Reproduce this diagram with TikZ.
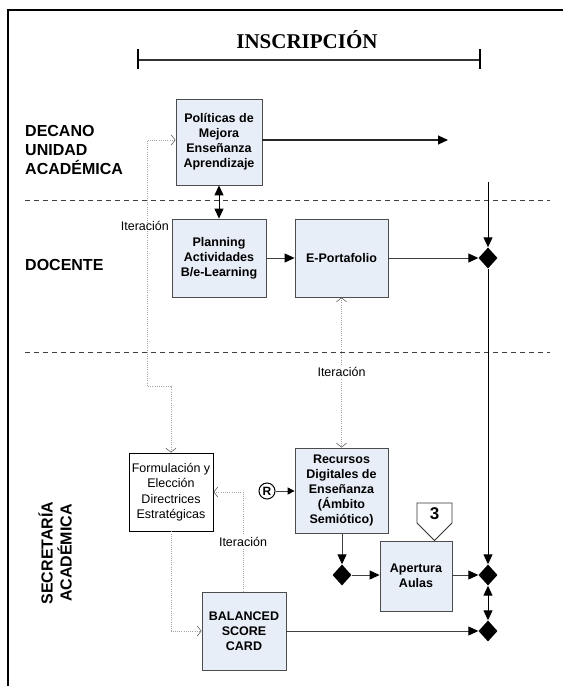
\documentclass[tikz,border=0pt]{standalone}
\usepackage{fontspec}
\setmainfont{Liberation Sans}
\newfontfamily\serifT{Liberation Serif}
\usetikzlibrary{arrows.meta,shapes.geometric}
\definecolor{boxblue}{RGB}{232,238,248}
\begin{document}
\begin{tikzpicture}[x=1pt,y=-1pt,
  box/.style={draw=black!70, fill=boxblue, line width=0.8pt, inner sep=1pt, align=center,
    font=\fontsize{12.5}{15}\selectfont\bfseries},
  wbox/.style={draw=black, fill=white, line width=0.8pt, inner sep=1pt, align=center,
    font=\fontsize{12.5}{15.5}\selectfont},
  lane/.style={font=\fontsize{16}{19}\selectfont\bfseries, align=left, inner sep=0pt},
  dia/.style={shape=diamond, fill=black, draw=none, minimum width=19pt, minimum height=21pt, inner sep=0pt},
  itlbl/.style={font=\fontsize{12.5}{14}\selectfont, inner sep=1pt},
  conn/.style={draw=black!75, line width=1pt, -{Triangle[length=10pt,width=9pt,black]}},
  conn2/.style={draw=black!75, line width=1pt, {Triangle[length=10pt,width=9pt,black]}-{Triangle[length=10pt,width=9pt,black]}},
  iter/.style={draw=black!35, line width=0.7pt, dash pattern=on 1pt off 1.2pt,
    -{Straight Barb[length=4pt,width=10pt,black!60,line width=0.6pt]}},
  iter2/.style={iter, {Straight Barb[length=4pt,width=10pt,black!60,line width=0.6pt]}-{Straight Barb[length=4pt,width=10pt,black!60,line width=0.6pt]}},
  lanesep/.style={draw=black!75, line width=0.8pt, dash pattern=on 5pt off 4pt}
]
\useasboundingbox (0,0) rectangle (563,686);
% frame
\draw[line width=1.8pt] (563,10) -- (8,10) -- (8,690);
% title
\node[font=\serifT\fontsize{21}{23}\selectfont\bfseries] (title) at (307,40) {INSCRIPCIÓN};
\draw[line width=1.2pt, black!80] (138,60) -- (480,60);
\draw[line width=1.2pt] (138,49) -- (138,69);
\draw[line width=1.2pt] (480,49) -- (480,69);
% lane separators
\draw[lanesep] (25,200) -- (550,200);
\draw[lanesep] (25,352) -- (550,352);
% lane labels
\node[lane, anchor=west] (l1) at (25,150) {DECANO\\UNIDAD\\ACADÉMICA};
\node[lane, anchor=west] (l2) at (25,265) {DOCENTE};
\node[lane, align=center, rotate=90] (l3) at (55,553) {SECRETARÍA\\ACADÉMICA};
% boxes
\node[box, minimum width=86pt, minimum height=86pt] (pol) at (219,142) {Políticas de\\Mejora\\Enseñanza\\Aprendizaje};
\node[box, minimum width=94pt, minimum height=78pt] (plan) at (219,258) {Planning\\Actividades\\B/e-Learning};
\node[box, minimum width=93pt, minimum height=78pt] (port) at (341.5,258) {E-Portafolio};
\node[wbox, minimum width=84pt, minimum height=78pt] (form) at (171,492) {Formulación y\\Elección\\Directrices\\Estratégicas};
\node[box, minimum width=93pt, minimum height=85pt] (rec) at (341.5,490.5) {Recursos\\Digitales de\\Enseñanza\\(Ámbito\\Semiótico)};
\node[box, minimum width=72pt, minimum height=70pt] (aper) at (416,576) {Apertura\\Aulas};
\node[box, minimum width=84pt, minimum height=78pt] (bsc) at (244,631) {BALANCED\\SCORE\\CARD};
% off-page pentagon
\draw[draw=black!80, fill=white, line width=0.8pt] (417,503) -- (452,503) -- (452,523) -- (434.5,540.5) -- (417,523) -- cycle;
\node[font=\fontsize{17}{18}\selectfont\bfseries] (three) at (434.5,514) {3};
% R circle
\node[circle, draw=black, line width=1pt, minimum size=16pt, inner sep=0pt, font=\fontsize{12}{12}\selectfont\bfseries] (r) at (267,491) {R};
% diamonds
\node[dia] (d1) at (488,258) {};
\node[dia] (d2) at (488,575) {};
\node[dia] (d3) at (488,631) {};
\node[dia] (d4) at (342,575) {};
% free ends
\coordinate (polend) at (448,140);
\coordinate (rtop) at (488,182);
\coordinate (c1) at (147,386);
\coordinate (c2) at (243,0);
% solid connectors
\draw[conn, draw=black!85, line width=1.2pt] (pol.east |- polend) -- (polend);
\draw[conn2, draw=black] (pol.south) -- (plan.north);
\draw[conn] (plan.east) -- (port.west);
\draw[conn] (port.east) -- (d1.west);
\draw[conn, draw=black] (rtop) -- (d1.north);
\draw[conn, draw=black] (d1.south) -- (d2.north);
\draw[conn2, draw=black] (d2.south) -- (d3.north);
\draw[conn] (aper.east |- d2) -- (d2.west);
\draw[conn] (bsc.east) -- (d3.west);
\draw[conn] (rec.south -| d4) -- (d4.north);
\draw[conn] (d4.east) -- (aper.west |- d4);
\draw[draw=black!75, line width=1pt, -{Triangle[length=7pt,width=7pt,black]}] (r.east) -- (rec.west |- r);
% iteration connectors
\draw[iter2] (pol.west |- polend) -| (c1) -| (form.north);
\node[itlbl, anchor=east] (it1) at (170,226) {Iteración};
\draw[iter] (form.south) |- (bsc.west);
\draw[iter] (bsc.north -| c2) |- (form.east);
\node[itlbl, fill=white] (it2) at (243,542) {Iteración};
\draw[iter2] (port.south) -- (rec.north);
\node[itlbl, fill=white] (it3) at (341.5,372) {Iteración};
\end{tikzpicture}
\end{document}
